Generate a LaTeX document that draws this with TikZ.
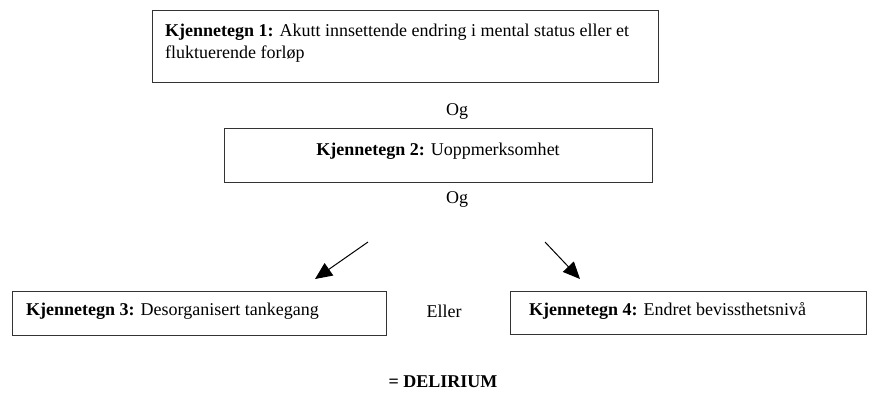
\documentclass[tikz,border=0pt]{standalone}
\usepackage{fontspec}
\setmainfont{Liberation Serif}
\usetikzlibrary{arrows.meta}
\begin{document}
\begin{tikzpicture}[x=1pt,y=-1pt,
  box/.style={draw=black!80,line width=1.1pt,rectangle,inner sep=0pt,anchor=north west},
  txt/.style={inner sep=0pt,font=\fontsize{18}{22}\selectfont,align=left},
  arr/.style={line width=1pt,-{Triangle[length=17pt,width=15pt]}}]
\useasboundingbox (0,0) rectangle (872,392);
% boxes
\node[box,minimum width=506pt,minimum height=72pt] (b1) at (152,10) {};
\node[box,minimum width=428pt,minimum height=54pt] (b2) at (224,128) {};
\node[box,minimum width=374pt,minimum height=44pt] (b3) at (12,291) {};
\node[box,minimum width=356pt,minimum height=43pt] (b4) at (510,291) {};
% texts
\node[txt,anchor=north west] (t1) at (165,24) {\textbf{Kjennetegn 1:} Akutt innsettende endring i mental status eller et\\fluktuerende forløp};
\node[txt] (t2) at (438,151) {\textbf{Kjennetegn 2:} Uoppmerksomhet};
\node[txt,anchor=west] (t3) at (26,311) {\textbf{Kjennetegn 3:} Desorganisert tankegang};
\node[txt,anchor=west] (t4) at (529,311) {\textbf{Kjennetegn 4:} Endret bevissthetsnivå};
\node[txt] (og1) at (457,111) {Og};
\node[txt] (og2) at (457,199) {Og};
\node[txt] (eller) at (444,311) {Eller};
\node[txt,font=\fontsize{18}{22}\selectfont\bfseries] (del) at (443,382) {= DELIRIUM};
% arrows
\coordinate (a1s) at (368,242);
\coordinate (a1e) at (315,279);
\coordinate (a2s) at (545,242);
\coordinate (a2e) at (580,279);
\draw[arr] (a1s) -- (a1e);
\draw[arr] (a2s) -- (a2e);
\end{tikzpicture}
\end{document}
